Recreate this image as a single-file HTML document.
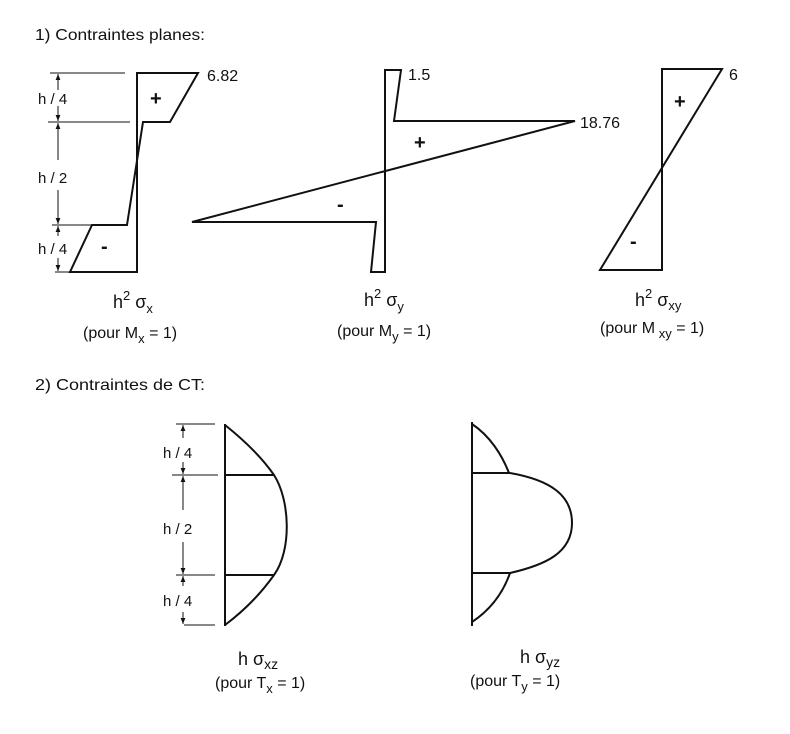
<!DOCTYPE html>
<html><head><meta charset="utf-8"><style>
html,body{margin:0;padding:0;background:#fff;}
svg{display:block;}
text{font-family:"Liberation Sans",sans-serif;fill:#111;}
</style></head><body>
<svg width="790" height="734" viewBox="0 0 790 734" xmlns="http://www.w3.org/2000/svg">
<defs>
<marker id="a" viewBox="0 0 10 10" refX="10" refY="5" markerWidth="6" markerHeight="7" orient="auto-start-reverse"><path d="M0,1 L10,5 L0,9 z" fill="#111"/></marker>
</defs>
<g stroke="#111" fill="none" stroke-width="2">
<line x1="137" y1="72" x2="137" y2="273"/>
<polyline points="137,73 198,73 170,122 143,122 127,225 92,225 70,272 137,272"/>
<line x1="385" y1="69" x2="385" y2="273"/>
<polyline points="385,70 401,70 394,121 575,121 192,222 376,222 371,272 385,272"/>
<line x1="662" y1="68" x2="662" y2="271"/>
<polyline points="662,69 722,69 600,270 662,270"/>
<line x1="225" y1="424" x2="225" y2="626"/>
<path d="M225,425 C250,445 265,462 274,475 C290,500 292,550 274,575 C262,592 245,610 225,625"/>
<line x1="225" y1="475" x2="274" y2="475"/>
<line x1="225" y1="575" x2="274" y2="575"/>
<line x1="472" y1="422" x2="472" y2="626"/>
<path d="M472,424 C490,436 502,455 509,473"/>
<line x1="472" y1="473" x2="510" y2="473"/>
<path d="M510,473 C550,480 572,495 572,523 C572,553 545,565 510,573"/>
<line x1="472" y1="573" x2="510" y2="573"/>
<path d="M510,573 C503,593 490,610 472,622"/>
</g>
<g stroke="#111" stroke-width="1">
<line x1="50" y1="73" x2="125" y2="73"/>
<line x1="48" y1="122" x2="130" y2="122"/>
<line x1="52" y1="225" x2="93" y2="225"/>
<line x1="55" y1="272" x2="70" y2="272"/>
<line x1="58" y1="74" x2="58" y2="90" marker-start="url(#a)"/>
<line x1="58" y1="106" x2="58" y2="121" marker-end="url(#a)"/>
<line x1="58" y1="123" x2="58" y2="160" marker-start="url(#a)"/>
<line x1="58" y1="190" x2="58" y2="224" marker-end="url(#a)"/>
<line x1="58" y1="226" x2="58" y2="236" marker-start="url(#a)"/>
<line x1="58" y1="258" x2="58" y2="271" marker-end="url(#a)"/>
<line x1="176" y1="424" x2="215" y2="424"/>
<line x1="172" y1="475" x2="218" y2="475"/>
<line x1="176" y1="575" x2="215" y2="575"/>
<line x1="184" y1="625" x2="215" y2="625"/>
<line x1="183" y1="425" x2="183" y2="438" marker-start="url(#a)"/>
<line x1="183" y1="462" x2="183" y2="474" marker-end="url(#a)"/>
<line x1="183" y1="476" x2="183" y2="510" marker-start="url(#a)"/>
<line x1="183" y1="542" x2="183" y2="574" marker-end="url(#a)"/>
<line x1="183" y1="576" x2="183" y2="586" marker-start="url(#a)"/>
<line x1="183" y1="612" x2="183" y2="624" marker-end="url(#a)"/>
</g>
<g font-size="16">
<text x="35" y="40" textLength="170" lengthAdjust="spacingAndGlyphs">1) Contraintes planes:</text>
<text x="207" y="81">6.82</text>
<text x="408" y="80">1.5</text>
<text x="580" y="128">18.76</text>
<text x="729" y="80">6</text>
<text x="35" y="390" textLength="170" lengthAdjust="spacingAndGlyphs">2) Contraintes de CT:</text>
</g>
<g font-size="15">
<text x="38" y="104">h / 4</text>
<text x="38" y="183">h / 2</text>
<text x="38" y="254">h / 4</text>
<text x="163" y="458">h / 4</text>
<text x="163" y="534">h / 2</text>
<text x="163" y="606">h / 4</text>
</g>
<g font-size="20" font-weight="bold">
<text x="150" y="105">+</text>
<text x="101" y="253">-</text>
<text x="414" y="149">+</text>
<text x="337" y="211">-</text>
<text x="674" y="108">+</text>
<text x="630" y="248">-</text>
</g>
<g font-size="18">
<text x="113" y="308">h<tspan font-size="13" dy="-8">2</tspan><tspan dy="8"> σ</tspan><tspan font-size="13" dy="5">x</tspan></text>
<text x="364" y="306">h<tspan font-size="13" dy="-8">2</tspan><tspan dy="8"> σ</tspan><tspan font-size="13" dy="5">y</tspan></text>
<text x="635" y="306">h<tspan font-size="13" dy="-8">2</tspan><tspan dy="8"> σ</tspan><tspan font-size="13" dy="4">xy</tspan></text>
<text x="238" y="665">h σ<tspan font-size="14" dy="4">xz</tspan></text>
<text x="520" y="663">h σ<tspan font-size="14" dy="4">yz</tspan></text>
</g>
<g font-size="16">
<text x="83" y="338">(pour M<tspan font-size="13" dy="5">x</tspan><tspan dy="-5"> = 1)</tspan></text>
<text x="337" y="336">(pour M<tspan font-size="13" dy="5">y</tspan><tspan dy="-5"> = 1)</tspan></text>
<text x="600" y="333">(pour M<tspan font-size="13" dy="5"> xy</tspan><tspan dy="-5"> = 1)</tspan></text>
<text x="215" y="688">(pour T<tspan font-size="13" dy="5">x</tspan><tspan dy="-5"> = 1)</tspan></text>
<text x="470" y="686">(pour T<tspan font-size="13" dy="5">y</tspan><tspan dy="-5"> = 1)</tspan></text>
</g>
</svg>
</body></html>
